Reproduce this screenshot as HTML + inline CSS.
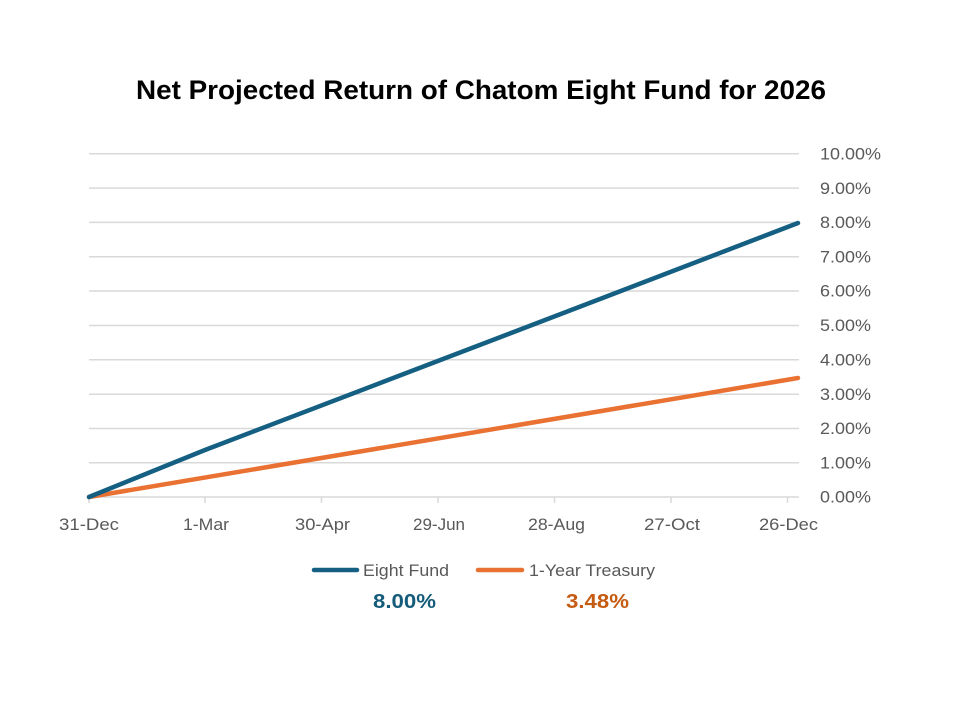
<!DOCTYPE html>
<html>
<head>
<meta charset="utf-8">
<style>
html,body{margin:0;padding:0;background:#fff;}
svg{display:block;}
text{font-family:"Liberation Sans",sans-serif;}
</style>
</head>
<body>
<svg width="960" height="720" viewBox="0 0 960 720" xmlns="http://www.w3.org/2000/svg">
<defs>
<clipPath id="c"><rect x="60" y="0" width="900" height="720"/></clipPath>
</defs>
<rect width="960" height="720" fill="#fff"/>
<text x="136" y="99" font-size="27" font-weight="bold" fill="#000" textLength="690" lengthAdjust="spacingAndGlyphs">Net Projected Return of Chatom Eight Fund for 2026</text>

<g stroke="#d9d9d9" stroke-width="1.5">
<line x1="89" y1="153.8" x2="799" y2="153.8"/>
<line x1="89" y1="188.1" x2="799" y2="188.1"/>
<line x1="89" y1="222.4" x2="799" y2="222.4"/>
<line x1="89" y1="256.7" x2="799" y2="256.7"/>
<line x1="89" y1="291" x2="799" y2="291"/>
<line x1="89" y1="325.5" x2="799" y2="325.5"/>
<line x1="89" y1="359.8" x2="799" y2="359.8"/>
<line x1="89" y1="394.2" x2="799" y2="394.2"/>
<line x1="89" y1="428.5" x2="799" y2="428.5"/>
<line x1="89" y1="462.7" x2="799" y2="462.7"/>
<line x1="89" y1="497" x2="799" y2="497"/>
<line x1="89" y1="497" x2="89" y2="503"/>
<line x1="205" y1="497" x2="205" y2="503"/>
<line x1="321.5" y1="497" x2="321.5" y2="503"/>
<line x1="438" y1="497" x2="438" y2="503"/>
<line x1="554.5" y1="497" x2="554.5" y2="503"/>
<line x1="671" y1="497" x2="671" y2="503"/>
<line x1="787.5" y1="497" x2="787.5" y2="503"/>
</g>

<g font-size="16.5" fill="#595959">
<text x="820" y="159.5" textLength="61" lengthAdjust="spacingAndGlyphs">10.00%</text>
<text x="820" y="193.8" textLength="51" lengthAdjust="spacingAndGlyphs">9.00%</text>
<text x="820" y="228.1" textLength="51" lengthAdjust="spacingAndGlyphs">8.00%</text>
<text x="820" y="262.4" textLength="51" lengthAdjust="spacingAndGlyphs">7.00%</text>
<text x="820" y="296.7" textLength="51" lengthAdjust="spacingAndGlyphs">6.00%</text>
<text x="820" y="331.2" textLength="51" lengthAdjust="spacingAndGlyphs">5.00%</text>
<text x="820" y="365.5" textLength="51" lengthAdjust="spacingAndGlyphs">4.00%</text>
<text x="820" y="399.9" textLength="51" lengthAdjust="spacingAndGlyphs">3.00%</text>
<text x="820" y="434.2" textLength="51" lengthAdjust="spacingAndGlyphs">2.00%</text>
<text x="820" y="468.4" textLength="51" lengthAdjust="spacingAndGlyphs">1.00%</text>
<text x="820" y="502.7" textLength="51" lengthAdjust="spacingAndGlyphs">0.00%</text>
</g>

<g font-size="16.5" fill="#595959" clip-path="url(#c)">
<text x="59" y="530" textLength="60" lengthAdjust="spacingAndGlyphs">31-Dec</text>
<text x="183" y="530" textLength="46" lengthAdjust="spacingAndGlyphs">1-Mar</text>
<text x="295" y="530" textLength="55" lengthAdjust="spacingAndGlyphs">30-Apr</text>
<text x="413" y="530" textLength="52" lengthAdjust="spacingAndGlyphs">29-Jun</text>
<text x="528" y="530" textLength="57" lengthAdjust="spacingAndGlyphs">28-Aug</text>
<text x="644" y="530" textLength="56" lengthAdjust="spacingAndGlyphs">27-Oct</text>
<text x="759" y="530" textLength="59" lengthAdjust="spacingAndGlyphs">26-Dec</text>
</g>

<polyline points="89,497 798,378" fill="none" stroke="#E97132" stroke-width="4.5" stroke-linecap="round" stroke-linejoin="round"/>
<polyline points="89,497 205,450 600,299 798,223" fill="none" stroke="#156082" stroke-width="4.5" stroke-linecap="round" stroke-linejoin="round"/>

<line x1="314" y1="570" x2="357" y2="570" stroke="#156082" stroke-width="4.5" stroke-linecap="round"/>
<text x="363" y="576" font-size="17" fill="#595959" textLength="86" lengthAdjust="spacingAndGlyphs">Eight Fund</text>
<line x1="478" y1="570" x2="522" y2="570" stroke="#E97132" stroke-width="4.5" stroke-linecap="round"/>
<text x="529" y="576" font-size="17" fill="#595959" textLength="126" lengthAdjust="spacingAndGlyphs">1-Year Treasury</text>

<text x="373" y="608" font-size="20" font-weight="bold" fill="#155C7A" textLength="63" lengthAdjust="spacingAndGlyphs">8.00%</text>
<text x="566" y="608" font-size="20" font-weight="bold" fill="#C55A11" textLength="63" lengthAdjust="spacingAndGlyphs">3.48%</text>
</svg>
</body>
</html>
